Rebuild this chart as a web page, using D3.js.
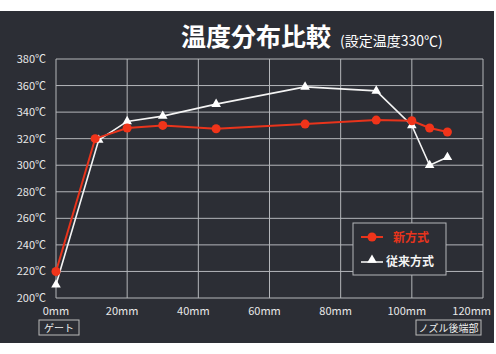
<!DOCTYPE html>
<html>
  <head>
    <meta charset="utf-8">
    <title>温度分布比較</title>
    <script src="https://d3js.org/d3.v7.min.js"></script>
    <style>
      body { margin: 0; background: #fff; }
    </style>
  </head>
  <body>
    <div id="chart"></div>
    <script>
      // 位置（mm）と温度（℃）
      const newPos = [0, 11, 20, 30, 45, 70, 90, 100, 105, 110];
      const newTemp = [220, 320, 328, 330, 327.5, 331, 334, 333.5, 328, 325];
      const oldPos = [0, 12, 20, 30, 45, 70, 90, 100, 105, 110];
      const oldTemp = [210, 319, 333, 337, 346, 359, 356, 330, 300, 306];
      const xTicks = [0, 20, 40, 60, 80, 100, 120];
      const yTicks = [200, 220, 240, 260, 280, 300, 320, 340, 360, 380];
      const seriesNames = ["新方式", "従来方式"];

      const width = 496, height = 354;
      const font = "'Noto Sans CJK JP', sans-serif";
      const svg = d3.select("#chart").append("svg")
                    .attr("width", width)
                    .attr("height", height);

      // 背景
      svg.append("rect")
         .attr("x", 0).attr("y", 11)
         .attr("width", 494).attr("height", 332)
         .attr("fill", "#2c2e35");

      const xScale = d3.scaleLinear().domain([0, 120]).range([56, 483]);
      const yScale = d3.scaleLinear().domain([200, 380]).range([298, 59]);

      // グリッド
      svg.append("g").selectAll("line")
         .data(yTicks)
         .join("line")
         .attr("x1", xScale(0)).attr("x2", xScale(120))
         .attr("y1", d => yScale(d)).attr("y2", d => yScale(d))
         .attr("stroke", "#b4b6ba").attr("stroke-width", 1);
      svg.append("g").selectAll("line")
         .data(xTicks)
         .join("line")
         .attr("x1", d => xScale(d)).attr("x2", d => xScale(d))
         .attr("y1", yScale(200)).attr("y2", yScale(380))
         .attr("stroke", "#b4b6ba").attr("stroke-width", 1);

      // 軸ラベル
      svg.append("g").selectAll("text")
         .data(yTicks)
         .join("text")
         .attr("x", 46)
         .attr("y", d => yScale(d) + 4)
         .attr("text-anchor", "end")
         .attr("font-family", font)
         .attr("font-size", 11)
         .attr("fill", "#e8e8e8")
         .text(d => d + "℃");
      svg.append("g").selectAll("text")
         .data(xTicks)
         .join("text")
         .attr("x", d => d === 0 ? xScale(d) : d === 120 ? 491 : xScale(d) - 5)
         .attr("y", 315)
         .attr("text-anchor", d => d === 120 ? "end" : "middle")
         .attr("font-family", font)
         .attr("font-size", 11)
         .attr("fill", "#e8e8e8")
         .text(d => d + "mm");

      // タイトル
      const title = svg.append("text")
                       .attr("x", 181).attr("y", 46)
                       .attr("font-family", font)
                       .attr("fill", "#fff");
      title.append("tspan").attr("font-size", 25).attr("font-weight", "bold").text("温度分布比較");
      title.append("tspan").attr("dx", 9).attr("font-size", 14).text("(設定温度330℃)");

      // 端部ラベル
      const tags = [
        {text: "ゲート", x: 39, w: 40},
        {text: "ノズル後端部", x: 416, w: 65}
      ];
      tags.forEach(t => {
        svg.append("rect")
           .attr("x", t.x).attr("y", 320).attr("width", t.w).attr("height", 15)
           .attr("fill", "none").attr("stroke", "#bbb").attr("stroke-width", 1);
        svg.append("text")
           .attr("x", t.x + t.w / 2).attr("y", 332)
           .attr("text-anchor", "middle")
           .attr("font-family", font).attr("font-size", 10)
           .attr("fill", "#eee")
           .text(t.text);
      });

      const line = d3.line().x(d => xScale(d[0])).y(d => yScale(d[1]));
      const oldData = oldPos.map((p, i) => [p, oldTemp[i]]);
      const newData = newPos.map((p, i) => [p, newTemp[i]]);
      const tri = d3.symbol().type(d3.symbolTriangle).size(40);

      // 従来方式
      svg.append("path").datum(oldData)
         .attr("d", line).attr("fill", "none")
         .attr("stroke", "#f4f4f4").attr("stroke-width", 1.6);
      svg.append("g").selectAll("path")
         .data(oldData)
         .join("path")
         .attr("d", tri)
         .attr("transform", d => `translate(${xScale(d[0])},${yScale(d[1])})`)
         .attr("fill", "#fff");

      // 新方式
      svg.append("path").datum(newData)
         .attr("d", line).attr("fill", "none")
         .attr("stroke", "#e8341c").attr("stroke-width", 2);
      svg.append("g").selectAll("circle")
         .data(newData)
         .join("circle")
         .attr("cx", d => xScale(d[0])).attr("cy", d => yScale(d[1]))
         .attr("r", 4.5)
         .attr("fill", "#f0341a");

      // 凡例
      const legend = svg.append("g");
      legend.append("rect")
            .attr("x", 353).attr("y", 223).attr("width", 93).attr("height", 52)
            .attr("fill", "#2c2e35").attr("stroke", "#b4b6ba").attr("stroke-width", 1);
      legend.append("line").attr("x1", 361).attr("x2", 383).attr("y1", 237).attr("y2", 237)
            .attr("stroke", "#e8341c").attr("stroke-width", 2);
      legend.append("circle").attr("cx", 372).attr("cy", 237).attr("r", 4.5).attr("fill", "#f0341a");
      legend.append("text").attr("x", 393).attr("y", 242)
            .attr("font-family", font).attr("font-size", 12).attr("font-weight", "bold")
            .attr("fill", "#e8341c").text(seriesNames[0]);
      legend.append("line").attr("x1", 361).attr("x2", 383).attr("y1", 262).attr("y2", 262)
            .attr("stroke", "#f4f4f4").attr("stroke-width", 1.6);
      legend.append("path").attr("d", tri)
            .attr("transform", "translate(372,260)").attr("fill", "#fff");
      legend.append("text").attr("x", 386).attr("y", 266)
            .attr("font-family", font).attr("font-size", 12).attr("font-weight", "bold")
            .attr("fill", "#f4f4f4").text(seriesNames[1]);
    </script>
  </body>
</html>
